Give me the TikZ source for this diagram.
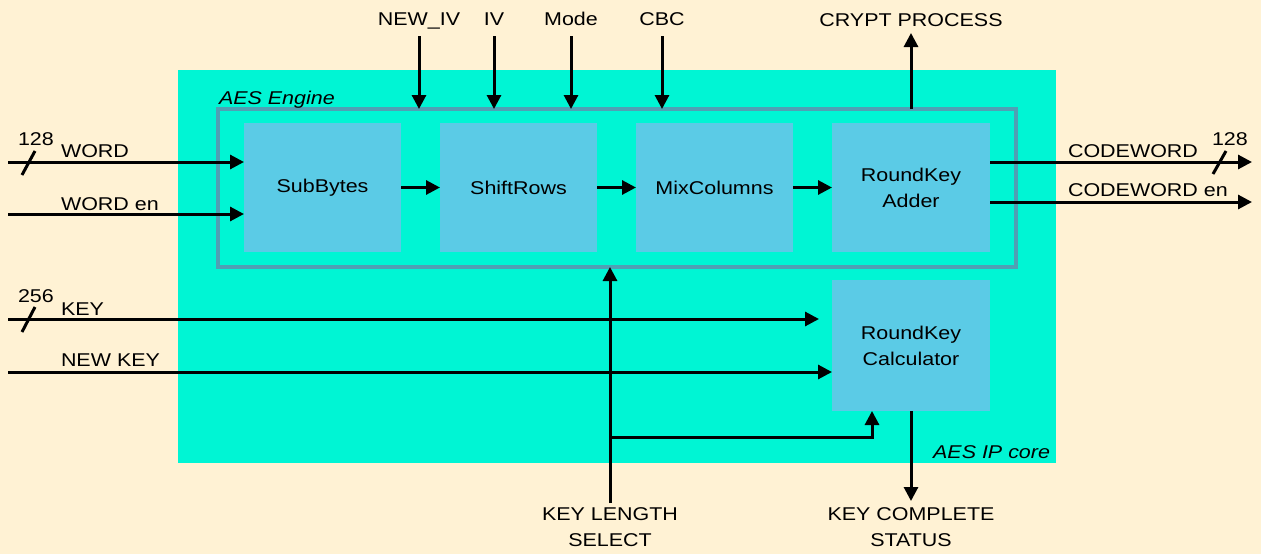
\documentclass[tikz,border=0pt]{standalone}
\usepackage{fontspec}
\setmainfont{Liberation Sans}[FakeStretch=1.16]
\usetikzlibrary{arrows.meta,positioning}
\definecolor{bgyellow}{RGB}{255,242,212}
\definecolor{corecyan}{RGB}{0,245,212}
\definecolor{blockblue}{RGB}{91,203,230}
\definecolor{enginegray}{RGB}{80,160,180}
\tikzset{
  block/.style={fill=blockblue, minimum width=157pt, minimum height=129pt,
    align=center, inner sep=0pt, outer sep=0pt},
  wire/.style={line width=3pt},
  sig/.style={wire, -{Triangle[length=14pt,width=14pt]}},
  lbl/.style={inner sep=0pt, outer sep=0pt},
}

\begin{document}
\begin{tikzpicture}[x=1pt, y=-1pt, font=\fontsize{18.5}{26}\selectfont]
  \fill[bgyellow] (0,0) rectangle (1261,554);
  \useasboundingbox (0,0) rectangle (1261,554);

  % core and engine frames
  \node[fill=corecyan, minimum width=878pt, minimum height=393pt,
    inner sep=0pt, outer sep=0pt, anchor=north west] (core) at (178,70) {};
  \node[draw=enginegray, line width=3.5pt, minimum width=798pt,
    minimum height=158pt, inner sep=0pt, outer sep=0pt, anchor=north west] (engine) at (218,109) {};
  \node[lbl, anchor=base west] (enginelbl) at (219,104) {\itshape AES Engine};
  \node[lbl, anchor=base east] (corelbl) at (1050,458) {\itshape AES IP core};

  % blocks
  \node[block, anchor=north west] (sub) at (244,123) {SubBytes};
  \node[block, right=39pt of sub] (shift) {ShiftRows};
  \node[block, right=39pt of shift] (mix) {MixColumns};
  \node[block, right=39pt of mix, minimum width=158pt] (adder) {RoundKey\\Adder};
  \node[block, below=28pt of adder, minimum width=158pt, minimum height=131pt] (calc) {RoundKey\\Calculator};

  \draw[sig] (sub) -- (shift);
  \draw[sig] (shift) -- (mix);
  \draw[sig] (mix) -- (adder);

  % data inputs
  \coordinate (wordin) at (8,162);
  \coordinate (worden) at (8,214);
  \draw[sig] (wordin) -- (wordin -| sub.west);
  \draw[sig] (worden) -- (worden -| sub.west);
  \draw[wire] (22,175) -- (35,151);
  \node[lbl, anchor=base west] (wordw) at (18,145) {128};
  \node[lbl, anchor=base west] (wordlbl) at (61,157) {WORD};
  \node[lbl, anchor=base west] (wordenlbl) at (61,210) {WORD en};

  % key inputs
  \coordinate (keyin) at (8,319);
  \coordinate (newkey) at (8,372);
  \draw[sig] (keyin) -- ([xshift=-13pt]calc.west |- keyin);
  \draw[sig] (newkey) -- (newkey -| calc.west);
  \draw[wire] (22,332) -- (35,307);
  \node[lbl, anchor=base west] (keyw) at (18,302) {256};
  \node[lbl, anchor=base west] (keylbl) at (61,315) {KEY};
  \node[lbl, anchor=base west] (newkeylbl) at (61,366) {NEW KEY};

  % outputs
  \coordinate (cwout) at (1252,162);
  \coordinate (cwenout) at (1252,202);
  \draw[sig] (adder.east |- cwout) -- (cwout);
  \draw[sig] (adder.east |- cwenout) -- (cwenout);
  \draw[wire] (1213,174) -- (1226,151);
  \node[lbl, anchor=base west] (cww) at (1212,145) {128};
  \node[lbl, anchor=base west] (cwlbl) at (1068,157) {CODEWORD};
  \node[lbl, anchor=base west] (cwenlbl) at (1068,196) {CODEWORD en};

  % control inputs on top
  \node[lbl, anchor=base] (newiv) at (419,25) {NEW\_IV};
  \node[lbl, anchor=base] (iv) at (494,25) {IV};
  \node[lbl, anchor=base] (mode) at (571,25) {Mode};
  \node[lbl, anchor=base] (cbc) at (662,25) {CBC};
  \foreach \n in {newiv,iv,mode,cbc}
    \draw[sig] ([yshift=-11pt]\n.base) -- (\n |- engine.north);

  \node[lbl, anchor=base] (crypt) at (911,26) {CRYPT PROCESS};
  \draw[sig] (crypt |- engine.north) -- ([yshift=-7pt]crypt.base);

  % key length select and status
  \node[lbl, anchor=north, align=center] (klen) at (610,508) {KEY LENGTH\\SELECT};
  \node[lbl, anchor=north, align=center] (kdone) at (911,508) {KEY COMPLETE\\STATUS};
  \coordinate (branch) at (610,437);
  \draw[sig] ([yshift=5pt]klen.north) -- (klen |- engine.south);
  \draw[sig] (branch) -| ([xshift=-39pt]calc.south);
  \draw[sig] (calc.south) -- ([yshift=7pt]kdone.north);
\end{tikzpicture}
\end{document}
